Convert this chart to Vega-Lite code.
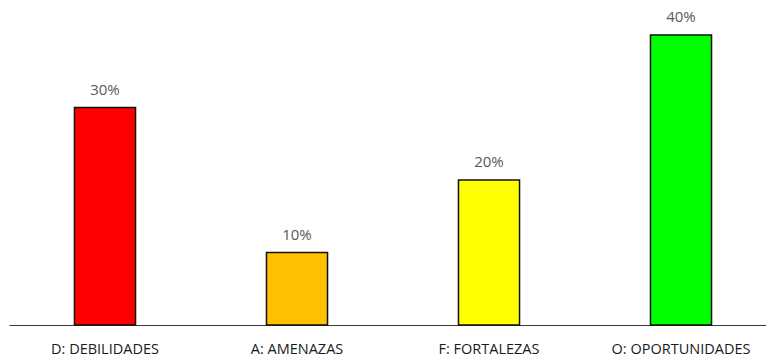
{
  "$schema": "https://vega.github.io/schema/vega-lite/v6.json",
  "width": 757,
  "height": 290,
  "autosize": {"type": "none"},
  "padding": {"left": 9, "top": 35, "right": 0, "bottom": 31},
  "background": "white",
  "config": {"view": {"stroke": null}},
  "data": {
    "values": [
      {"factor": "D: DEBILIDADES", "share": 0.3, "color": "#FF0000"},
      {"factor": "A: AMENAZAS", "share": 0.1, "color": "#FFC000"},
      {"factor": "F: FORTALEZAS", "share": 0.2, "color": "#FFFF00"},
      {"factor": "O: OPORTUNIDADES", "share": 0.4, "color": "#00FF00"}
    ]
  },
  "encoding": {
    "x": {
      "field": "factor",
      "type": "nominal",
      "sort": null,
      "scale": {"range": [0, 768], "paddingInner": 0.682, "paddingOuter": 0.341},
      "axis": {
        "title": null,
        "labelAngle": 0,
        "ticks": false,
        "labelBaseline": "alphabetic",
        "labelPadding": 28,
        "labelFont": "Open Sans",
        "labelFontSize": 14.5,
        "labelColor": "#1a1a1a",
        "domainColor": "#3a3a3a",
        "domainWidth": 1
      }
    },
    "y": {
      "field": "share",
      "type": "quantitative",
      "scale": {"domain": [0, 0.4], "nice": false},
      "axis": null
    }
  },
  "layer": [
    {
      "mark": {"type": "bar", "stroke": "#111111", "strokeWidth": 1.5},
      "encoding": {
        "color": {"field": "color", "type": "nominal", "scale": null}
      }
    },
    {
      "mark": {
        "type": "text",
        "baseline": "alphabetic",
        "dy": -13,
        "font": "Open Sans",
        "fontSize": 15,
        "color": "#595959"
      },
      "encoding": {
        "text": {"field": "share", "type": "quantitative", "format": ".0%"}
      }
    }
  ]
}
